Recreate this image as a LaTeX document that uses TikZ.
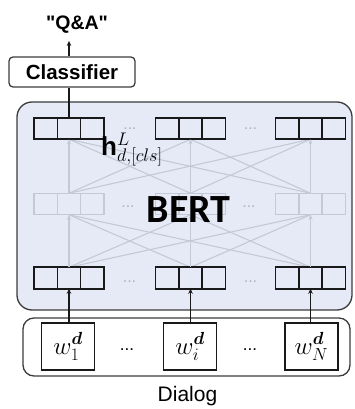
\RequirePackage{fix-cm}
\documentclass[tikz,border=0pt]{standalone}
\usepackage{bm}
\usepackage{fontspec}
\setmainfont{Liberation Sans}
\newfontfamily\qafont{Liberation Sans}
\newfontfamily\bertfont{Carlito}
\usetikzlibrary{calc,arrows.meta}
\definecolor{bertfill}{RGB}{230,234,247}
\definecolor{fadedline}{RGB}{196,201,214}
\definecolor{boxline}{RGB}{60,60,60}
\definecolor{vecline}{RGB}{25,25,25}
\definecolor{dotgray}{RGB}{175,180,195}
\begin{document}
\begin{tikzpicture}[x=1pt,y=-1pt,
  vecbox/.style={draw=#1, line width=1.6pt, minimum width=70pt, minimum height=21.5pt,
    inner sep=0pt, outer sep=0pt,
    path picture={\draw[#1,line width=1.6pt]
      ($(path picture bounding box.south west)!1/3!(path picture bounding box.south east)$) --
      ($(path picture bounding box.north west)!1/3!(path picture bounding box.north east)$)
      ($(path picture bounding box.south west)!2/3!(path picture bounding box.south east)$) --
      ($(path picture bounding box.north west)!2/3!(path picture bounding box.north east)$);}},
  fadedconn/.style={draw=fadedline, line width=1.1pt},
  fadedarrow/.style={fadedconn, -{Stealth[length=5pt,width=4pt]}},
  blackarrow/.style={draw=vecline, line width=1.1pt, -{Stealth[length=5pt,width=4.5pt]}},
  tokbox/.style={draw=vecline, line width=1.1pt, fill=white, minimum width=53pt, minimum height=47pt, inner sep=0pt,
    font=\fontsize{25}{27}\selectfont},
  dotsf/.style={text=dotgray, inner sep=0pt, font=\fontsize{16}{16}\selectfont},
  dotsk/.style={text=black, inner sep=0pt, font=\fontsize{17}{17}\selectfont},
]
\useasboundingbox (0,0) rectangle (355,409);

% BERT container
\node[draw=boxline, fill=bertfill, line width=1.3pt, rounded corners=15pt,
      minimum width=335pt, minimum height=208pt, inner sep=0pt] (bert) at (184.5,206) {};
% Dialog container
\node[draw=boxline, line width=1.3pt, rounded corners=11pt,
      minimum width=327pt, minimum height=58pt, inner sep=0pt] (dialog) at (186.5,347) {};

\path
  (69,128.5) coordinate (pt1) (190.5,128.5) coordinate (pt2) (310.5,128.5) coordinate (pt3)
  (69,204) coordinate (pm1) (190.5,204) coordinate (pm2) (310.5,204) coordinate (pm3)
  (69,278) coordinate (pb1) (190.5,278) coordinate (pb2) (310.5,278) coordinate (pb3);

\node[vecbox=fadedline, line width=1.2pt] (m1) at (pm1) {};
\node[vecbox=fadedline, line width=1.2pt] (m2) at (pm2) {};
\node[vecbox=fadedline, line width=1.2pt] (m3) at (pm3) {};

% connections bottom -> middle
\foreach \l/\u in {b1/m2,b1/m3,b2/m1,b2/m3,b3/m1,b3/m2}{
  \draw[fadedconn] ($(p\l)+(0,-10.75)$) -- ($(p\u)+(0,10.75)$);
}
% connections middle -> top
\foreach \l/\u in {m1/t2,m1/t3,m2/t1,m2/t3,m3/t1,m3/t2}{
  \draw[fadedconn] ($(p\l)+(0,-10.75)$) -- ($(p\u)+(0,10.75)$);
}

% vectors
\node[vecbox=vecline] (t1) at (pt1) {};
\node[vecbox=vecline] (t2) at (pt2) {};
\node[vecbox=vecline] (t3) at (pt3) {};
\node[vecbox=vecline] (b1) at (pb1) {};
\node[vecbox=vecline] (b2) at (pb2) {};
\node[vecbox=vecline] (b3) at (pb3) {};

% vertical faded arrows
\draw[fadedarrow] (b1.north) -- (m1.south);
\draw[fadedarrow] (b2.north) -- (m2.south);
\draw[fadedarrow] (b3.north) -- (m3.south);
\draw[fadedarrow] (m1.north) -- (t1.south);
\draw[fadedarrow] (m2.north) -- (t2.south);
\draw[fadedarrow] (m3.north) -- (t3.south);

% dots
\node[dotsf] (dt1) at (130,129) {...};
\node[dotsf] (dt2) at (250.5,129) {...};
\node[dotsf] (dm1) at (128,207) {...};
\node[dotsf] (dm2) at (249,207) {...};
\node[dotsf] (db1) at (129.5,282) {...};
\node[dotsf] (db2) at (250.5,282) {...};

% BERT label
\node[inner sep=0pt, font=\bertfont\bfseries\fontsize{40}{40}\selectfont] (berttxt) at (188.5,210) {BERT};

% h label
\node[anchor=base west, inner sep=0pt, font=\fontsize{26}{28}\selectfont] (hlab) at (101,155)
  {$\mathbf{h}^{L}_{d,[cls]}$};

% tokens
\node[tokbox] (w1) at (68,346.5) {$w_1^{\bm{d}}$};
\node[tokbox] (wi) at (190,346.5) {$w_i^{\bm{d}}$};
\node[tokbox] (wN) at (311.5,346.5) {$w_N^{\bm{d}}$};
\node[dotsk] (dk1) at (127,350) {...};
\node[dotsk] (dk2) at (250,350) {...};

\draw[blackarrow] (b1.south |- w1.north) -- (b1.south);
\draw[blackarrow] (b2.south |- wi.north) -- (b2.south);
\draw[blackarrow] (b3.south |- wN.north) -- (b3.south);

\node[anchor=base, inner sep=0pt, font=\fontsize{21}{23}\selectfont] (dlabel) at (187.5,401.5) {Dialog};

% classifier and output
\node[draw=boxline, line width=1.3pt, rounded corners=4pt, minimum width=126pt, minimum height=30pt,
      inner sep=0pt, font=\bfseries\fontsize{20.5}{22}\selectfont] (cls) at (72,72) {Classifier};
\node[inner sep=0pt, font=\qafont\bfseries\fontsize{19.5}{21}\selectfont] (qa) at (77,25) {"Q\&A"};

\draw[draw=vecline, line width=1.1pt] (t1.north) -- (t1.north |- cls.south);
\draw[blackarrow] (t1.north |- cls.north) -- ($(t1.north |- qa.south)+(0,7)$);
\end{tikzpicture}
\end{document}
